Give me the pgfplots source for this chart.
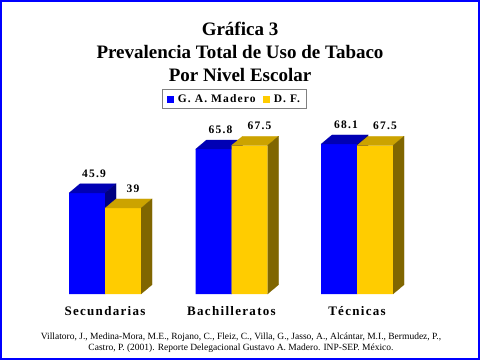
\documentclass[border=0pt]{standalone}
\usepackage{fontspec}
\setmainfont{Liberation Serif}
\newfontfamily\trk[LetterSpace=10]{Liberation Serif}
\usepackage{pgfplots}
\pgfplotsset{compat=1.18}
\definecolor{bF}{HTML}{0000FF}
\definecolor{bT}{HTML}{0000B4}
\definecolor{bS}{HTML}{000080}
\definecolor{yF}{HTML}{FFCC00}
\definecolor{yT}{HTML}{CCA300}
\definecolor{yS}{HTML}{806600}
\begin{document}
\begin{tikzpicture}
\useasboundingbox (0pt,0pt) rectangle (480pt,360pt);
\fill[white] (0pt,0pt) rectangle (480pt,360pt);
\draw[draw=bF, line width=2.4pt] (1.2pt,1.2pt) rectangle (478.8pt,358.8pt);
\node[anchor=base, inner sep=0pt, font=\bfseries\fontsize{19}{23}\selectfont] at (240pt,325pt) {Gráfica 3};
\node[anchor=base, inner sep=0pt, font=\bfseries\fontsize{19}{23}\selectfont] at (240pt,302pt) {Prevalencia Total de Uso de Tabaco};
\node[anchor=base, inner sep=0pt, font=\bfseries\fontsize{19}{23}\selectfont] at (240pt,278.7pt) {Por Nivel Escolar};
\node[anchor=base, inner sep=0pt, font=\fontsize{9.5}{11.5}\selectfont] at (241pt,21pt) {Villatoro, J., Medina-Mora, M.E., Rojano, C., Fleiz, C., Villa, G., Jasso, A., Alcántar, M.I., Bermudez, P.,};
\node[anchor=base, inner sep=0pt, font=\fontsize{9.5}{11.5}\selectfont] at (241pt,10pt) {Castro, P. (2001). Reporte Delegacional Gustavo A. Madero. INP-SEP. México.};
\begin{axis}[
  at={(105pt,66pt)}, anchor=origin,
  scale only axis, width=480pt, height=220pt,
  xmin=-105, xmax=375, ymin=0, ymax=100,
  clip=false,
  axis line style={draw=none},
  major tick length=0pt,
  ytick=\empty,
  xtick={0,126.5,252},
  xticklabels={Secundarias,Bachilleratos,Técnicas},
  xticklabel style={anchor=base, yshift=-21pt, inner sep=0pt, font=\trk\bfseries\fontsize{13}{15}\selectfont},
  legend columns=2,
  legend style={at={(0.4875,0.886)}, anchor=center, draw=gray, line width=0.8pt,
    inner xsep=5pt, inner ysep=3.5pt,
    font=\trk\bfseries\fontsize{11.5}{13}\selectfont,
    nodes={inner sep=1pt},
    /tikz/every odd column/.append style={column sep=3pt},
    /tikz/every even column/.append style={column sep=6pt}},
]
% Blue front faces
\addplot[ybar, bar width=36pt, bar shift=-18pt, fill=bF, draw=none,
  legend image code/.code={\fill[bF] (0pt,-3.5pt) rectangle (7pt,3.5pt);},
  point meta=explicit symbolic, nodes near coords,
  every node near coord/.style={anchor=base, yshift=16pt, xshift=-11pt, inner sep=0pt, text=black, font=\trk\bfseries\fontsize{11.5}{13}\selectfont}]
  coordinates {(0,45.9) [45.9] (126.5,65.8) [65.8] (252,68.1) [68.1]};
\addlegendentry{G. A. Madero}
% Blue top faces
\addplot[fill=bT, draw=bT, line width=0.2pt, forget plot] coordinates {(-36,45.9) (-25,50.1) (11,50.1) (0,45.9)};
\addplot[fill=bT, draw=bT, line width=0.2pt, forget plot] coordinates {(90.5,65.8) (101.5,70) (137.5,70) (126.5,65.8)};
\addplot[fill=bT, draw=bT, line width=0.2pt, forget plot] coordinates {(216,68.1) (227,72.3) (263,72.3) (252,68.1)};
% Blue side faces
\addplot[fill=bS, draw=bS, line width=0.2pt, forget plot] coordinates {(0,0) (11,4.2) (11,50.1) (0,45.9)};
\addplot[fill=bS, draw=bS, line width=0.2pt, forget plot] coordinates {(126.5,0) (137.5,4.2) (137.5,70) (126.5,65.8)};
\addplot[fill=bS, draw=bS, line width=0.2pt, forget plot] coordinates {(252,0) (263,4.2) (263,72.3) (252,68.1)};
% Yellow front faces
\addplot[ybar, bar width=36pt, bar shift=18pt, fill=yF, draw=none,
  legend image code/.code={\fill[yF] (0pt,-3.5pt) rectangle (7pt,3.5pt);},
  point meta=explicit symbolic, nodes near coords,
  every node near coord/.style={anchor=base, yshift=16pt, xshift=28pt, inner sep=0pt, text=black, font=\trk\bfseries\fontsize{11.5}{13}\selectfont}]
  coordinates {(0,39) [39] (126.5,67.5) [67.5] (252,67.5) [67.5]};
\addlegendentry{D. F.}
% Yellow top faces
\addplot[fill=yT, draw=yT, line width=0.2pt, forget plot] coordinates {(0,39) (11,43.2) (47,43.2) (36,39)};
\addplot[fill=yT, draw=yT, line width=0.2pt, forget plot] coordinates {(126.5,67.5) (137.5,71.7) (173.5,71.7) (162.5,67.5)};
\addplot[fill=yT, draw=yT, line width=0.2pt, forget plot] coordinates {(252,67.5) (263,71.7) (299,71.7) (288,67.5)};
% Yellow side faces
\addplot[fill=yS, draw=yS, line width=0.2pt, forget plot] coordinates {(36,0) (47,4.2) (47,43.2) (36,39)};
\addplot[fill=yS, draw=yS, line width=0.2pt, forget plot] coordinates {(162.5,0) (173.5,4.2) (173.5,71.7) (162.5,67.5)};
\addplot[fill=yS, draw=yS, line width=0.2pt, forget plot] coordinates {(288,0) (299,4.2) (299,71.7) (288,67.5)};
\end{axis}
\end{tikzpicture}
\end{document}
